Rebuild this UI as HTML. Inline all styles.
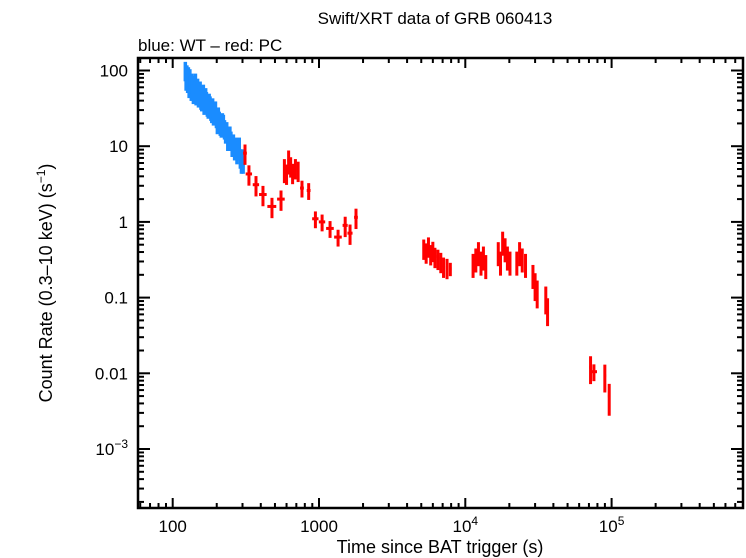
<!DOCTYPE html>
<html><head><meta charset="utf-8"><style>
body{margin:0;background:#fff;width:746px;height:558px;overflow:hidden}
svg{display:block;font-family:"Liberation Sans",sans-serif}
</style></head><body>
<svg id="chart" width="746" height="558">
<text x="435" y="24" font-size="17" text-anchor="middle">Swift/XRT data of GRB 060413</text>
<text x="138" y="51" font-size="17">blue: WT – red: PC</text>
<text x="440" y="553" font-size="18" text-anchor="middle">Time since BAT trigger (s)</text>
<text transform="translate(52,283) rotate(-90)" font-size="18" text-anchor="middle">Count Rate (0.3–10 keV) (s<tspan dy="-7" font-size="12">−1</tspan><tspan dy="7">)</tspan></text>
<g id="marks"></g>
<g id="axes"></g>
</svg>
<script>
const wtTime=[122,123.5,125,126.5,128,129.5,131,132.5,134,135.5,137,138.5,140,141.5,143,144.5,146,148,150,152,154,156,158,160,162,164,166,168,170,172.5,175,177.5,180,182.5,185,187.5,190,193,196,199,202,205,208,211.5,215,218.5,222,226,230,234,238,242,246,250,255,260,265,270,275,280,285,290,295,299,303];
const wtRate=[100,75,90,70,85,60,80,65,55,70,60,50,65,55,70,48,50,60,45,52,55,42,40,48,50,36,38,45,40,34,32,38,35,30,28,33,26,30,30,24,20,25,22,19,18,21,20,17,15,16,12,14,14,12,10,11,9,10,8,9,10,7,6,7,6];
const pcTime=[312,332,371,414,477,550,580,600,620,640,660,690,720,765,850,945,1050,1190,1350,1510,1630,1790,
5200,5400,5600,5800,6000,6200,6500,6800,7100,7500,7900,
11300,11800,12300,12800,13300,13800,16800,17400,18000,18700,19400,20200,22500,23500,24500,25800,
29000,30000,31000,35500,36500,71800,75700,89900,96300];
const pcRate=[8.1,4.3,3.1,2.3,1.6,2.0,5.0,4.4,6.5,5.5,4.5,5.2,4.8,2.8,2.6,1.1,1.0,0.82,0.63,0.9,0.71,1.15,
0.45,0.40,0.48,0.38,0.42,0.35,0.33,0.30,0.26,0.25,0.24,
0.28,0.33,0.40,0.30,0.35,0.27,0.40,0.30,0.55,0.45,0.35,0.30,0.30,0.40,0.33,0.28,
0.20,0.15,0.12,0.10,0.07,0.012,0.0105,0.0093,0.005];
const pcTErr=[0.03,0.05,0.05,0.06,0.07,0.06,0.02,0.02,0.02,0.02,0.02,0.02,0.02,0.03,0.03,0.05,0.05,0.06,0.06,0.04,0.04,0.03,
0.02,0.02,0.02,0.02,0.02,0.02,0.02,0.02,0.02,0.02,0.02,
0.01,0.01,0.01,0.01,0.01,0.01,0.01,0.01,0.01,0.01,0.01,0.01,0.01,0.01,0.01,0.01,
0.01,0.01,0.01,0.01,0.01,0.02,0.05,0.02,0.02];
const pcRErr=[0.3,0.3,0.3,0.3,0.3,0.3,0.35,0.3,0.35,0.3,0.3,0.3,0.3,0.25,0.25,0.25,0.25,0.25,0.25,0.3,0.3,0.3,
0.3,0.3,0.3,0.3,0.3,0.3,0.3,0.3,0.3,0.3,0.2,
0.35,0.35,0.35,0.35,0.35,0.35,0.35,0.35,0.35,0.35,0.35,0.35,0.35,0.35,0.35,0.35,
0.35,0.4,0.4,0.4,0.4,0.4,0.25,0.4,0.45];
const xTickVals=[100,1000,10000,100000];
const xTickLabels=["100","1000","10<tspan dy='-7' font-size='12'>4</tspan>","10<tspan dy='-7' font-size='12'>5</tspan>"];
const yTickVals=[100,10,1,0.1,0.01,0.001];
const yTickLabels=["100","10","1","0.1","0.01","10<tspan dy='-7' font-size='12'>−3</tspan>"];

const L=138,R=743,T=58,B=508;
const x=t=>172.7+(Math.log10(t)-2)*146.3;
const y=r=>70.5-(Math.log10(r)-2)*75.7;
const NS="http://www.w3.org/2000/svg";
const marks=document.getElementById('marks'),axes=document.getElementById('axes');
function line(p,x1,y1,x2,y2,c,w){const l=document.createElementNS(NS,'line');
l.setAttribute('x1',x1);l.setAttribute('y1',y1);l.setAttribute('x2',x2);l.setAttribute('y2',y2);
l.setAttribute('stroke',c);l.setAttribute('stroke-width',w);p.appendChild(l);return l;}

for(let i=0;i<wtTime.length;i++){
  const g=document.createElementNS(NS,'g');
  
  
  const t=wtTime[i],r=wtRate[i];
  line(g,x(t*0.992),y(r),x(t*1.008),y(r),'#1a8cff',3);
  line(g,x(t),y(r*1.3),x(t),y(r*0.72),'#1a8cff',3.5);
  marks.appendChild(g);
}
for(let i=0;i<pcTime.length;i++){
  const g=document.createElementNS(NS,'g');
  
  
  const t=pcTime[i],r=pcRate[i],te=pcTErr[i],re=pcRErr[i];
  line(g,x(t*(1-te)),y(r),x(t*(1+te)),y(r),'#ff0000',3);
  line(g,x(t),y(r*(1+re)),x(t),y(r*(1-re)),'#ff0000',3);
  marks.appendChild(g);
}
const fr=document.createElementNS(NS,'rect');
fr.setAttribute('x',L);fr.setAttribute('y',T);fr.setAttribute('width',R-L);fr.setAttribute('height',B-T);
fr.setAttribute('fill','none');fr.setAttribute('stroke','#000');fr.setAttribute('stroke-width',2.5);


axes.appendChild(fr);
for(let d=1;d<=5;d++)for(let m=1;m<10;m++){
  const v=m*Math.pow(10,d);const px=x(v);if(px<L||px>R)continue;
  const len=m===1?10:5;
  line(axes,px,B,px,B-len,'#000',2);line(axes,px,T,px,T+len,'#000',2);
}
xTickVals.forEach((v,i)=>{const tx=document.createElementNS(NS,'text');
  tx.setAttribute('x',x(v));tx.setAttribute('y',532);tx.setAttribute('font-size','17');tx.setAttribute('text-anchor','middle');
  tx.innerHTML=xTickLabels[i];
  
  
  axes.appendChild(tx);});
for(let d=-4;d<=2;d++)for(let m=1;m<10;m++){
  const v=m*Math.pow(10,d);const py=y(v);if(py<T||py>B)continue;
  const len=m===1?12:6;
  line(axes,L,py,L+len,py,'#000',2);line(axes,R,py,R-len,py,'#000',2);
}
yTickVals.forEach((v,i)=>{const tx=document.createElementNS(NS,'text');
  tx.setAttribute('x',128);tx.setAttribute('y',y(v)+6);tx.setAttribute('font-size','17');tx.setAttribute('text-anchor','end');
  tx.innerHTML=yTickLabels[i];
  
  
  axes.appendChild(tx);});
</script>
</body></html>
